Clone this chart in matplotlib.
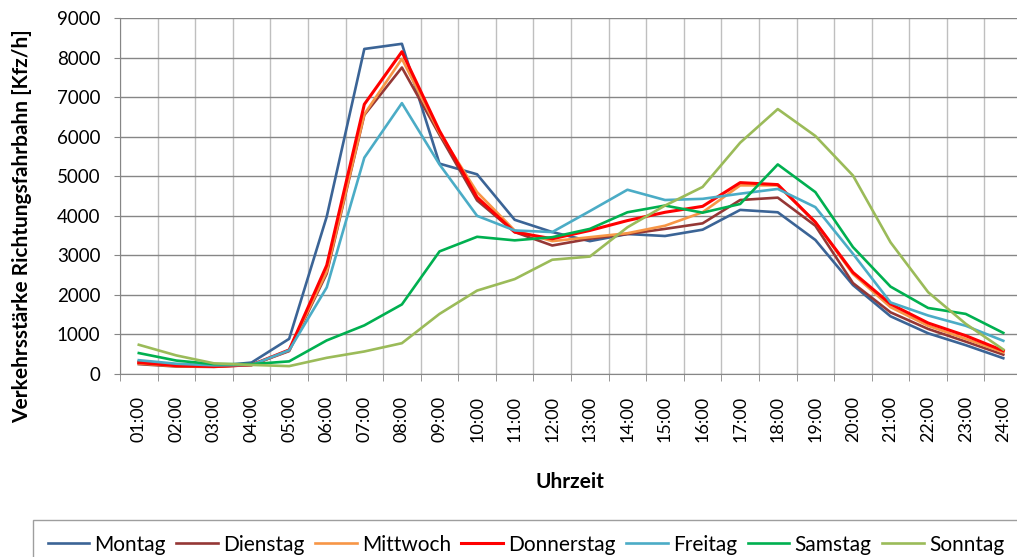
import numpy as np
import matplotlib.pyplot as plt

plt.rcParams['font.family'] = ['Lato', 'DejaVu Sans']

stunden = ['%02d:00' % h for h in range(1, 25)]

montag = [320, 220, 200, 290, 890, 3980, 8220, 8350, 5320, 5050, 3900, 3590,
          3360, 3540, 3490, 3650, 4150, 4090, 3390, 2250, 1460, 1030, 730, 400]
dienstag = [250, 190, 180, 230, 580, 2540, 6550, 7750, 6050, 4390, 3590, 3250,
            3420, 3540, 3670, 3810, 4400, 4460, 3750, 2300, 1560, 1140, 820, 490]
mittwoch = [270, 200, 190, 230, 600, 2590, 6570, 7970, 6100, 4600, 3630, 3360,
            3460, 3560, 3750, 4090, 4770, 4770, 3840, 2530, 1690, 1220, 890, 550]
donnerstag = [290, 210, 190, 230, 610, 2750, 6820, 8150, 6150, 4470, 3590, 3420,
              3630, 3880, 4090, 4240, 4840, 4790, 3840, 2570, 1770, 1290, 970, 590]
freitag = [350, 260, 220, 230, 600, 2190, 5470, 6850, 5300, 4000, 3630, 3590,
           4120, 4660, 4400, 4430, 4560, 4680, 4220, 3040, 1810, 1480, 1220, 840]
samstag = [530, 340, 250, 250, 320, 850, 1230, 1760, 3100, 3470, 3380, 3460,
           3670, 4090, 4260, 4080, 4300, 5300, 4600, 3210, 2210, 1670, 1520, 1040]
sonntag = [740, 470, 270, 230, 200, 410, 570, 780, 1520, 2110, 2400, 2890,
           2970, 3710, 4260, 4730, 5850, 6700, 6020, 5020, 3330, 2070, 1270, 620]

reihen = [
    ('Montag', montag, '#3b6496'),
    ('Dienstag', dienstag, '#953735'),
    ('Mittwoch', mittwoch, '#f79646'),
    ('Donnerstag', donnerstag, '#ff0000'),
    ('Freitag', freitag, '#4bacc6'),
    ('Samstag', samstag, '#00b050'),
    ('Sonntag', sonntag, '#9bbb59'),
]

fig = plt.figure(figsize=(10.17, 5.57), dpi=100)
ax = fig.add_axes([0.118, 0.3285, 0.887, 0.639])

x = np.arange(len(stunden))
for name, werte, farbe in reihen:
    lw = 2.2 if name == 'Donnerstag' else 1.9
    ax.plot(x, werte, color=farbe, lw=lw, label=name)

ax.set_xlim(-0.5, len(stunden) - 0.5)
ax.set_ylim(0, 9000)
ax.set_yticks(np.arange(0, 9001, 1000))
ax.set_xticks(x)
ax.set_xticklabels(stunden, rotation=90, fontsize=13)
ax.tick_params(axis='x', which='major', length=0, pad=16)
ax.set_xticks(np.arange(-0.5, len(stunden), 1), minor=True)
ax.tick_params(axis='x', which='minor', length=5, color='#868686')
ax.tick_params(axis='y', labelsize=13.5, length=4, pad=10, color='#868686')

ax.grid(False)
ax.yaxis.grid(True, color='#868686', lw=1)
ax.xaxis.grid(True, which='minor', color='#bfbfbf', lw=1)
ax.set_axisbelow(True)
for s in ['top', 'right']:
    ax.spines[s].set_visible(False)
for s in ['left', 'bottom']:
    ax.spines[s].set_color('#868686')

ax.set_xlabel('Uhrzeit', fontsize=15, fontweight='bold')
ax.xaxis.set_label_coords(0.499, -0.275)
ax.set_ylabel('Verkehrsstärke Richtungsfahrbahn [Kfz/h]', fontsize=15,
              fontweight='bold')
ax.yaxis.set_label_coords(-0.097, 0.416)

leg = fig.legend(loc='upper left', bbox_to_anchor=(33 / 1017, 1 - 520 / 557),
                 ncol=7, fontsize=15, frameon=True, fancybox=False,
                 handlelength=2.0, handletextpad=0.25, columnspacing=0.5,
                 borderpad=0.7, borderaxespad=0)
leg.get_frame().set_edgecolor('#868686')
leg.get_frame().set_linewidth(1)

plt.savefig('out.png', dpi=100)
plt.close()
